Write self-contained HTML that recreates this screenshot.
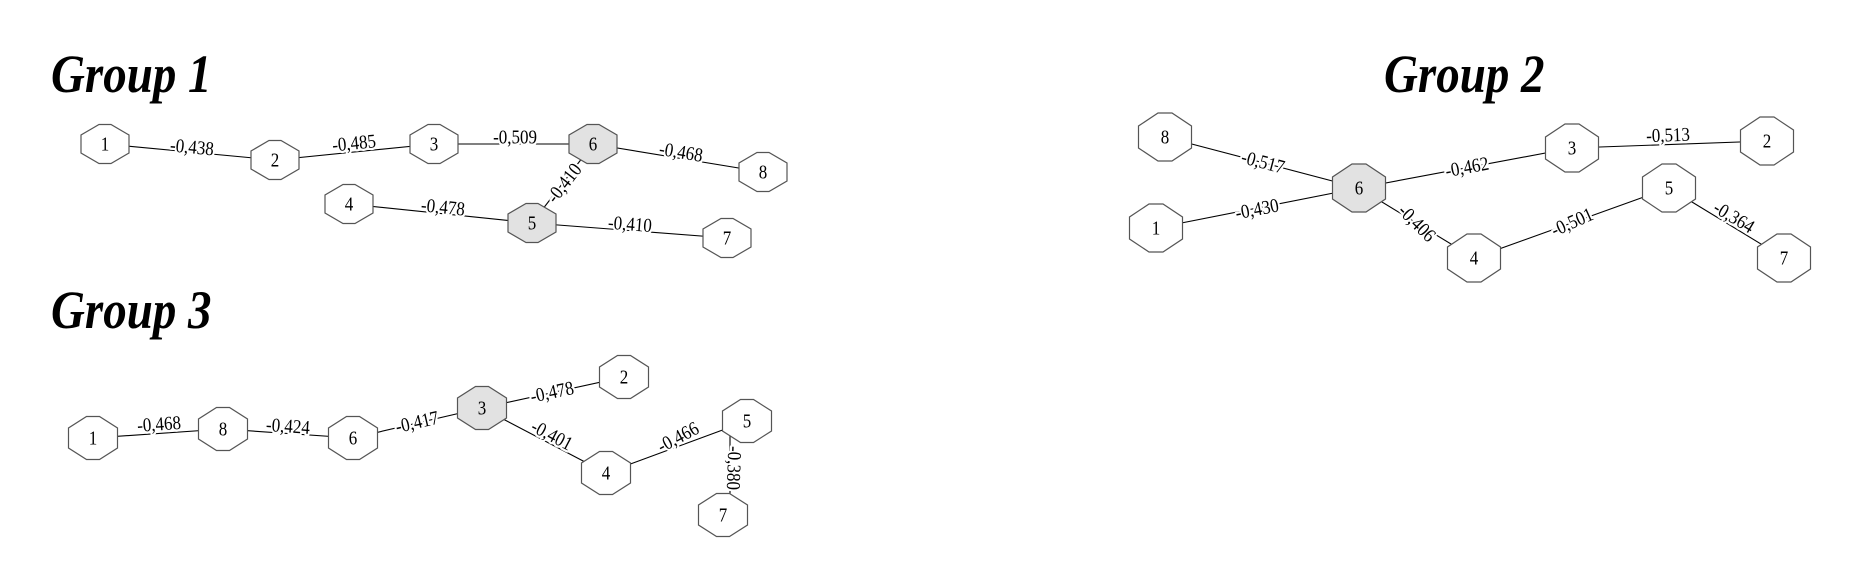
<!DOCTYPE html>
<html><head><meta charset="utf-8"><style>
html,body{margin:0;padding:0;background:#fff;}
svg{display:block;}
.t{font-family:"Liberation Serif",serif;font-weight:bold;font-style:italic;font-size:47px;fill:#000;}
.l{font-family:"Liberation Serif",serif;font-size:17px;fill:#000;text-anchor:middle;dominant-baseline:central;stroke:#fff;stroke-width:4px;paint-order:stroke;stroke-linejoin:round;}
.n{font-family:"Liberation Serif",serif;font-size:17px;fill:#000;text-anchor:middle;dominant-baseline:central;}
line{stroke:#000;stroke-width:1.1;}
polygon{stroke:#555;stroke-width:1.2;fill:#fff;}
polygon.g{fill:#e2e2e2;}
</style></head><body>
<svg width="1862" height="563" viewBox="0 0 1862 563" xmlns="http://www.w3.org/2000/svg">

<text class="t" transform="translate(51,92) scale(1,1.15)">Group 1</text>
<text class="t" transform="translate(1384,92) scale(1,1.15)">Group 2</text>
<text class="t" transform="translate(51,328) scale(1,1.15)">Group 3</text>

<!-- Group 1 edges -->
<line x1="105" y1="144" x2="275" y2="160"/>
<line x1="275" y1="160" x2="434" y2="144"/>
<line x1="434" y1="144" x2="593" y2="144"/>
<line x1="593" y1="144" x2="763" y2="172"/>
<line x1="593" y1="144" x2="532" y2="223"/>
<line x1="349" y1="204" x2="532" y2="223"/>
<line x1="532" y1="223" x2="727" y2="238"/>
<text class="l" transform="translate(192,147) rotate(5.4) scale(1,1.15)">-0,438</text>
<text class="l" transform="translate(354,143) rotate(-5.7) scale(1,1.15)">-0,485</text>
<text class="l" transform="translate(515,137) scale(1,1.15)">-0,509</text>
<text class="l" transform="translate(681,152) rotate(9.4) scale(1,1.15)">-0,468</text>
<text class="l" transform="translate(564,183) rotate(-52) scale(1,1.15)">-0,410</text>
<text class="l" transform="translate(443,207) rotate(5.9) scale(1,1.15)">-0,478</text>
<text class="l" transform="translate(630,224) rotate(4.4) scale(1,1.15)">-0,410</text>
<g transform="translate(105,144)"><polygon points="-6,-19.5 6,-19.5 24,-9 24,9 6,19.5 -6,19.5 -24,9 -24,-9"/><text class="n" transform="scale(1,1.15)">1</text></g>
<g transform="translate(275,160)"><polygon points="-6,-19.5 6,-19.5 24,-9 24,9 6,19.5 -6,19.5 -24,9 -24,-9"/><text class="n" transform="scale(1,1.15)">2</text></g>
<g transform="translate(434,144)"><polygon points="-6,-19.5 6,-19.5 24,-9 24,9 6,19.5 -6,19.5 -24,9 -24,-9"/><text class="n" transform="scale(1,1.15)">3</text></g>
<g transform="translate(593,144)"><polygon class="g" points="-6,-19.5 6,-19.5 24,-9 24,9 6,19.5 -6,19.5 -24,9 -24,-9"/><text class="n" transform="scale(1,1.15)">6</text></g>
<g transform="translate(763,172)"><polygon points="-6,-19.5 6,-19.5 24,-9 24,9 6,19.5 -6,19.5 -24,9 -24,-9"/><text class="n" transform="scale(1,1.15)">8</text></g>
<g transform="translate(349,204)"><polygon points="-6,-19.5 6,-19.5 24,-9 24,9 6,19.5 -6,19.5 -24,9 -24,-9"/><text class="n" transform="scale(1,1.15)">4</text></g>
<g transform="translate(532,223)"><polygon class="g" points="-6,-19.5 6,-19.5 24,-9 24,9 6,19.5 -6,19.5 -24,9 -24,-9"/><text class="n" transform="scale(1,1.15)">5</text></g>
<g transform="translate(727,238)"><polygon points="-6,-19.5 6,-19.5 24,-9 24,9 6,19.5 -6,19.5 -24,9 -24,-9"/><text class="n" transform="scale(1,1.15)">7</text></g>

<!-- Group 2 edges -->
<line x1="1165" y1="137" x2="1359" y2="188"/>
<line x1="1156" y1="228" x2="1359" y2="188"/>
<line x1="1359" y1="188" x2="1572" y2="148"/>
<line x1="1572" y1="148" x2="1767" y2="141"/>
<line x1="1359" y1="188" x2="1474" y2="258"/>
<line x1="1474" y1="258" x2="1669" y2="188"/>
<line x1="1669" y1="188" x2="1784" y2="258"/>
<text class="l" transform="translate(1263,162) rotate(14.7) scale(1,1.15)">-0,517</text>
<text class="l" transform="translate(1257,209) rotate(-11) scale(1,1.15)">-0,430</text>
<text class="l" transform="translate(1467,167) rotate(-10.6) scale(1,1.15)">-0,462</text>
<text class="l" transform="translate(1668,135) rotate(-2) scale(1,1.15)">-0,513</text>
<text class="l" transform="translate(1417,223) rotate(45) scale(1,1.15)">-0,406</text>
<text class="l" transform="translate(1572,222) rotate(-24) scale(1,1.15)">-0,501</text>
<text class="l" transform="translate(1734,217) rotate(31) scale(1,1.15)">-0,364</text>
<g transform="translate(1165,137)"><polygon points="-7,-24 7,-24 26.5,-11 26.5,11 7,24 -7,24 -26.5,11 -26.5,-11"/><text class="n" transform="scale(1,1.15)">8</text></g>
<g transform="translate(1156,228)"><polygon points="-7,-24 7,-24 26.5,-11 26.5,11 7,24 -7,24 -26.5,11 -26.5,-11"/><text class="n" transform="scale(1,1.15)">1</text></g>
<g transform="translate(1359,188)"><polygon class="g" points="-7,-24 7,-24 26.5,-11 26.5,11 7,24 -7,24 -26.5,11 -26.5,-11"/><text class="n" transform="scale(1,1.15)">6</text></g>
<g transform="translate(1572,148)"><polygon points="-7,-24 7,-24 26.5,-11 26.5,11 7,24 -7,24 -26.5,11 -26.5,-11"/><text class="n" transform="scale(1,1.15)">3</text></g>
<g transform="translate(1767,141)"><polygon points="-7,-24 7,-24 26.5,-11 26.5,11 7,24 -7,24 -26.5,11 -26.5,-11"/><text class="n" transform="scale(1,1.15)">2</text></g>
<g transform="translate(1669,188)"><polygon points="-7,-24 7,-24 26.5,-11 26.5,11 7,24 -7,24 -26.5,11 -26.5,-11"/><text class="n" transform="scale(1,1.15)">5</text></g>
<g transform="translate(1474,258)"><polygon points="-7,-24 7,-24 26.5,-11 26.5,11 7,24 -7,24 -26.5,11 -26.5,-11"/><text class="n" transform="scale(1,1.15)">4</text></g>
<g transform="translate(1784,258)"><polygon points="-7,-24 7,-24 26.5,-11 26.5,11 7,24 -7,24 -26.5,11 -26.5,-11"/><text class="n" transform="scale(1,1.15)">7</text></g>

<!-- Group 3 edges -->
<line x1="93" y1="438" x2="223" y2="429"/>
<line x1="223" y1="429" x2="353" y2="438"/>
<line x1="353" y1="438" x2="482" y2="408"/>
<line x1="482" y1="408" x2="624" y2="377"/>
<line x1="482" y1="408" x2="606" y2="473"/>
<line x1="606" y1="473" x2="747" y2="421"/>
<line x1="730" y1="421" x2="730" y2="515"/>
<text class="l" transform="translate(159,424) rotate(-4) scale(1,1.15)">-0,468</text>
<text class="l" transform="translate(288,426) rotate(4) scale(1,1.15)">-0,424</text>
<text class="l" transform="translate(417,422) rotate(-13) scale(1,1.15)">-0,417</text>
<text class="l" transform="translate(552,392) rotate(-12) scale(1,1.15)">-0,478</text>
<text class="l" transform="translate(552,435) rotate(27.7) scale(1,1.15)">-0,401</text>
<text class="l" transform="translate(678,437) rotate(-28) scale(1,1.15)">-0,466</text>
<text class="l" transform="translate(734,468) rotate(92) scale(1,1.15)">-0,380</text>
<g transform="translate(93,438)"><polygon points="-6.5,-21.5 6.5,-21.5 24.5,-10 24.5,10 6.5,21.5 -6.5,21.5 -24.5,10 -24.5,-10"/><text class="n" transform="scale(1,1.15)">1</text></g>
<g transform="translate(223,429)"><polygon points="-6.5,-21.5 6.5,-21.5 24.5,-10 24.5,10 6.5,21.5 -6.5,21.5 -24.5,10 -24.5,-10"/><text class="n" transform="scale(1,1.15)">8</text></g>
<g transform="translate(353,438)"><polygon points="-6.5,-21.5 6.5,-21.5 24.5,-10 24.5,10 6.5,21.5 -6.5,21.5 -24.5,10 -24.5,-10"/><text class="n" transform="scale(1,1.15)">6</text></g>
<g transform="translate(482,408)"><polygon class="g" points="-6.5,-21.5 6.5,-21.5 24.5,-10 24.5,10 6.5,21.5 -6.5,21.5 -24.5,10 -24.5,-10"/><text class="n" transform="scale(1,1.15)">3</text></g>
<g transform="translate(624,377)"><polygon points="-6.5,-21.5 6.5,-21.5 24.5,-10 24.5,10 6.5,21.5 -6.5,21.5 -24.5,10 -24.5,-10"/><text class="n" transform="scale(1,1.15)">2</text></g>
<g transform="translate(606,473)"><polygon points="-6.5,-21.5 6.5,-21.5 24.5,-10 24.5,10 6.5,21.5 -6.5,21.5 -24.5,10 -24.5,-10"/><text class="n" transform="scale(1,1.15)">4</text></g>
<g transform="translate(747,421)"><polygon points="-6.5,-21.5 6.5,-21.5 24.5,-10 24.5,10 6.5,21.5 -6.5,21.5 -24.5,10 -24.5,-10"/><text class="n" transform="scale(1,1.15)">5</text></g>
<g transform="translate(723,515)"><polygon points="-6.5,-21.5 6.5,-21.5 24.5,-10 24.5,10 6.5,21.5 -6.5,21.5 -24.5,10 -24.5,-10"/><text class="n" transform="scale(1,1.15)">7</text></g>
</svg>
</body></html>
